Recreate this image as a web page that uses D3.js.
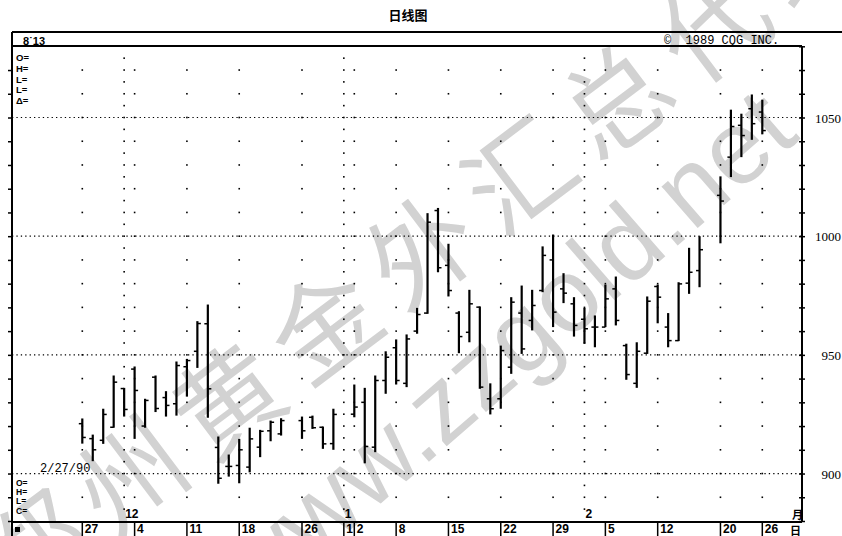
<!DOCTYPE html>
<html><head><meta charset="utf-8">
<script src="https://cdn.jsdelivr.net/npm/d3@7/dist/d3.min.js"></script>
<style>body{margin:0;background:#fff}svg{display:block}</style>
</head><body><svg id="c" width="842" height="536"></svg>
<script>
// ---- data ----
const dates = ["1989-11-27","1989-11-28","1989-11-29","1989-11-30","1989-12-01",
 "1989-12-04","1989-12-05","1989-12-06","1989-12-07","1989-12-08",
 "1989-12-11","1989-12-12","1989-12-13","1989-12-14","1989-12-15",
 "1989-12-18","1989-12-19","1989-12-20","1989-12-21","1989-12-22",
 "1989-12-26","1989-12-27","1989-12-28","1989-12-29",
 "1990-01-02","1990-01-03","1990-01-04","1990-01-05",
 "1990-01-08","1990-01-09","1990-01-10","1990-01-11","1990-01-12",
 "1990-01-15","1990-01-16","1990-01-17","1990-01-18","1990-01-19",
 "1990-01-22","1990-01-23","1990-01-24","1990-01-25","1990-01-26",
 "1990-01-29","1990-01-30","1990-01-31","1990-02-01","1990-02-02",
 "1990-02-05","1990-02-06","1990-02-07","1990-02-08","1990-02-09",
 "1990-02-12","1990-02-13","1990-02-14","1990-02-15","1990-02-16",
 "1990-02-20","1990-02-21","1990-02-22","1990-02-23","1990-02-26"];
const openV  = [921,914.7,914,919.5,935.8, 944,920,940.6,932,929.4, 945,951.5,963.1,911,903,
 903.4,902.7,911.1,918,916.7, 922.3,923.7,919.5,912.6, 925,930,911.1,939.2,
 953,938,960,967.6,1010.8, 987.7,967.6,959.5,970.1,931.5, 931.5,944.8,967.6,964.5,977.1,
 990,977.8,971.5,965,961.7, 961.7,977.8,953.9,938,950.7, 978.8,961.7,956,980.2,985.5,
 1017.2,1033.3,1046.7,1053.7,1052.3];
const highV  = [923.2,916.4,927.3,941.3,936.1, 945.1,931.5,941.3,934.7,947.2, 948.3,964.2,971.2,915.6,908,
 914.6,919.3,918.4,922.3,923.3, 924,924.4,919.8,927.3, 937.5,936.1,941.3,951.5,
 956.5,958.6,969.8,1009.7,1011.9, 996.8,968.4,977.4,970.4,938, 953.9,974.3,979.2,977.4,995.7,
 1000.7,984.4,974.3,969.8,966.6, 979.6,983,954.7,955.3,974.6, 979.6,967.6,980.6,995.1,1000,
 1025.2,1053.3,1051.6,1059.7,1057.5];
const lowV   = [912.6,905.2,912.5,919.3,924, 914.6,919.3,925.9,924,924.4, 932.4,944.5,923.5,895.7,898.7,
 895.9,900.5,906.9,913.6,916, 914.6,918.8,910.4,910, 923.7,904.3,909,933.6,
 937.5,936.4,958.9,967.3,984.8, 974.6,950.7,955.3,935.7,924.9, 927.3,942,950.4,960.3,976.4,
 961.7,971.8,957.7,954.7,953.2, 961.7,962.4,939.5,936.1,950.4, 963.3,953.2,955.8,975.7,978.5,
 997,1024.9,1033.3,1040.6,1042.9];
const closeV = [915.2,910,924.9,938.5,927, 935,930.8,927.4,928.7,945.5, 947.6,963.2,935.7,898,903,
 910,914.6,917.8,921.6,922.3, 918,919.3,912.5,924.9, 928,911.4,939.2,949,
 939.2,956.7,967,1005.9,986.7, 977.1,957.7,971.5,936.4,927.3, 951.8,972.2,952.5,970.8,991.9,
 968,976,962.4,961,961.7, 973.6,964.5,941.7,951.5,972.6, 974.3,956,979.9,984.8,994.3,
 1014.8,1046.2,1042.4,1047.4,1044.5];
const weekTickDates  = ["1989-11-27","1989-12-04","1989-12-11","1989-12-18","1989-12-26","1990-01-02",
 "1990-01-08","1990-01-15","1990-01-22","1990-01-29","1990-02-05","1990-02-12","1990-02-20","1990-02-26"];
const axisTickDates  = ["1989-11-27","1989-12-04","1989-12-11","1989-12-18","1989-12-26","1990-01-01","1990-01-02",
 "1990-01-08","1990-01-15","1990-01-22","1990-01-29","1990-02-05","1990-02-12","1990-02-20","1990-02-26"];
const axisTickLabels = ["27","4","11","18","26","1","2","8","15","22","29","5","12","20","26"];
const monthStarts = ["1989-12-01","1990-01-01","1990-02-01"];
const monthLabels = ["12","1","2"];
const priceLabels = [900,950,1000,1050];
const topLegend = ["O=","H=","L=","L=","Δ="];
const bottomLegend = ["O=","H=","L=","C="];
const watermarkCJK = "郑州黄金外汇总代理";
const watermarkURL = "www.zzgold.net";

// ---- scales ----
const fmt = d3.utcFormat("%Y-%m-%d");
const slots = d3.utcDay.range(new Date(Date.UTC(1989,10,27)), new Date(Date.UTC(1990,1,27)))
  .filter(d => d.getUTCDay() > 0 && d.getUTCDay() < 6).map(fmt);
const x = d3.scalePoint().domain(slots).range([82.3, 762.3]);
const y = d3.scaleLinear().domain([880, 1080]).range([521, 46.3]);

const L = 12, R = 802, T = 32, H2 = 46, B = 522;
const svg = d3.select("#c");
svg.append("rect").attr("width",842).attr("height",536).attr("fill","#fff");

// ---- watermark ----
const wm = svg.append("g").attr("fill","#d2d2d2");
[...watermarkCJK].forEach((ch,k) => {
  const cx = 30 + k*97, cy = 545 - k*75;
  wm.append("text").attr("transform",`translate(${cx},${cy}) rotate(-37)`)
    .attr("text-anchor","middle").attr("dominant-baseline","central")
    .attr("font-family","Noto Sans CJK SC").attr("font-size",106).text(ch);
});
wm.append("text").attr("transform","translate(256,612) rotate(-41)")
  .attr("font-family","Liberation Sans").attr("font-size",104).text(watermarkURL);

// ---- dotted grid ----
const g = svg.append("g");
g.selectAll("line.h").data(priceLabels).join("line")
  .attr("x1",L).attr("x2",R).attr("y1",d=>y(d)).attr("y2",d=>y(d))
  .attr("stroke","#000").attr("stroke-width",1.2).attr("stroke-dasharray","1.3,3.1");
const wkLevels = d3.range(890,1071,10);
weekTickDates.forEach(d => {
  g.selectAll(null).data(wkLevels).join("rect")
    .attr("x",x(d)-0.8).attr("y",v=>y(v)-0.8).attr("width",1.6).attr("height",1.6).attr("fill","#000");
});
const moLevels = d3.range(885,1076,5);
monthStarts.forEach(d => {
  g.selectAll(null).data(moLevels).join("rect")
    .attr("x",x(d)-0.8).attr("y",v=>y(v)-0.8).attr("width",1.6).attr("height",1.6).attr("fill","#000");
});

// ---- frame ----
const fr = svg.append("g").attr("stroke","#000").attr("fill","none");
fr.append("line").attr("x1",L).attr("x2",842).attr("y1",T).attr("y2",T).attr("stroke-width",2);
fr.append("line").attr("x1",L).attr("x2",R).attr("y1",H2).attr("y2",H2).attr("stroke-width",2);
fr.append("line").attr("x1",L).attr("x2",L).attr("y1",T).attr("y2",536).attr("stroke-width",2);
fr.append("line").attr("x1",R).attr("x2",R).attr("y1",H2).attr("y2",B).attr("stroke-width",2);
fr.append("line").attr("x1",L).attr("x2",R).attr("y1",B).attr("y2",B).attr("stroke-width",2);

// ---- axes ----
const yTickVals = d3.range(880,1081,10);
const ya = svg.append("g").attr("transform",`translate(${R},0)`)
  .call(d3.axisRight(y).tickValues(yTickVals).tickSize(3).tickFormat(d => priceLabels.includes(d) ? d : ""));
ya.select(".domain").remove();
ya.selectAll(".tick line").attr("x1",-3).attr("stroke-width",1.5);
ya.selectAll(".tick text").attr("x",39).attr("text-anchor","end").attr("dy","0.35em")
  .attr("font-family","Liberation Serif").attr("font-size",13).attr("fill","#000");
const yl = svg.append("g").attr("transform",`translate(${L},0)`)
  .call(d3.axisLeft(y).tickValues(yTickVals.filter(v=>v<1075)).tickSize(4).tickFormat(""));
yl.select(".domain").remove();
yl.selectAll(".tick line").attr("stroke-width",1.5);

const xa = svg.append("g").attr("transform",`translate(0,${B})`)
  .call(d3.axisBottom(x).tickValues(axisTickDates).tickSize(14)
    .tickFormat(d => axisTickLabels[axisTickDates.indexOf(d)]));
xa.select(".domain").remove();
xa.selectAll(".tick line").attr("stroke-width",1.5).attr("transform","translate(-0.5,0)");
xa.selectAll(".tick text").attr("x",2).attr("y",7).attr("dy","0.35em").attr("text-anchor","start")
  .attr("font-family","Liberation Sans").attr("font-weight","bold").attr("font-size",12).attr("fill","#000");

// month labels
svg.append("g").selectAll("text").data(monthStarts).join("text")
  .attr("x",d=>x(d)+1).attr("y",518).attr("font-family","Liberation Sans").attr("font-weight","bold")
  .attr("font-size",12).text((d,i)=>monthLabels[i]);

// ---- OHLC bars ----
const bars = svg.append("g").attr("stroke","#000");
dates.forEach((d,i) => {
  const cx = x(d);
  bars.append("line").attr("x1",cx).attr("x2",cx).attr("y1",y(highV[i])).attr("y2",y(lowV[i])).attr("stroke-width",2.2);
  bars.append("line").attr("x1",cx-3.5).attr("x2",cx).attr("y1",y(openV[i])).attr("y2",y(openV[i])).attr("stroke-width",1.5);
  bars.append("line").attr("x1",cx).attr("x2",cx+3.5).attr("y1",y(closeV[i])).attr("y2",y(closeV[i])).attr("stroke-width",1.5);
});

// ---- texts ----
svg.append("text").attr("x",408).attr("y",20).attr("text-anchor","middle")
  .attr("font-family","Noto Sans CJK SC").attr("font-weight","bold").attr("font-size",13).text("日线图");
svg.append("text").attr("x",23).attr("y",44.5).attr("font-family","Liberation Sans").attr("font-weight","bold")
  .attr("font-size",11).text("8˙13");
svg.append("text").attr("x",664).attr("y",43.5).attr("font-family","Liberation Mono")
  .attr("font-size",12).attr("xml:space","preserve").text("©  1989 CQG INC.");
svg.append("g").selectAll("text").data(topLegend).join("text")
  .attr("x",16).attr("y",(d,i)=>61+i*10.8).attr("font-family","Liberation Sans").attr("font-weight","bold")
  .attr("font-size",9.5).text(d=>d);
svg.append("g").selectAll("text").data(bottomLegend).join("text")
  .attr("x",16).attr("y",(d,i)=>486+i*9.2).attr("font-family","Liberation Sans").attr("font-weight","bold")
  .attr("font-size",8.5).text(d=>d);
svg.append("text").attr("x",40).attr("y",472).attr("font-family","Liberation Mono").attr("font-size",12).text("2/27/90");
svg.append("text").attr("x",792).attr("y",519).attr("font-family","Noto Sans CJK SC").attr("font-weight","bold").attr("font-size",11).text("月");
svg.append("text").attr("x",790).attr("y",535).attr("font-family","Noto Sans CJK SC").attr("font-weight","bold").attr("font-size",11).text("日");
svg.append("rect").attr("x",15).attr("y",527).attr("width",5).attr("height",5).attr("fill","#000");
</script></body></html>
